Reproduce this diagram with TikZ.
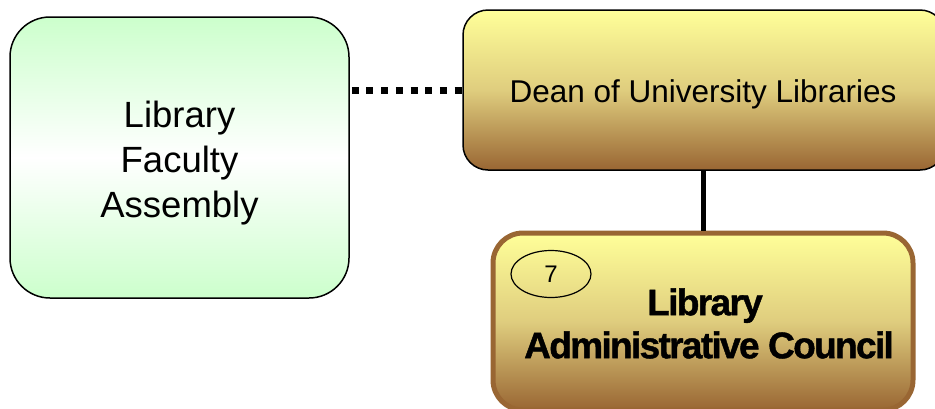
\documentclass[tikz,border=0pt]{standalone}
\usepackage{fontspec}
\setmainfont{Liberation Sans}
\newfontfamily\tightbold[LetterSpace=-4.5,FakeBold=1.2]{Liberation Sans Bold}
\usetikzlibrary{shapes.geometric}

\definecolor{paleGreen}{HTML}{CCFFCC}
\definecolor{paleYellow}{HTML}{FFFF99}
\definecolor{midGold}{HTML}{DFCD7E}
\definecolor{rustBrown}{HTML}{996633}

\tikzset{
  orgbox/.style={draw=black, line width=1.5pt, inner sep=0pt},
  boxtext/.style={align=center, inner sep=0pt},
  greenfill/.style={top color=paleGreen, bottom color=paleGreen, middle color=white},
  goldfill/.style={top color=paleYellow, bottom color=rustBrown, middle color=midGold},
  tie/.style={line width=7pt, dash pattern=on 7pt off 7.7pt},
  report/.style={line width=5pt},
}

\begin{document}
\begin{tikzpicture}[x=1pt, y=-1pt]
  \useasboundingbox (0,0) rectangle (935,408);

  % Library Faculty Assembly
  \node[orgbox, greenfill, rounded corners=40pt,
        minimum width=339pt, minimum height=281pt]
    (fac) at (179.5,157.5) {};
  \node[boxtext, font=\fontsize{36.5}{45}\selectfont]
    (facText) at ([yshift=-6pt]fac.center) {Library\\Faculty\\Assembly};

  % Dean of University Libraries
  \node[orgbox, goldfill, rounded corners=25pt,
        minimum width=482pt, minimum height=160pt]
    (dean) at (704,90) {};
  \node[boxtext, font=\fontsize{31.5}{38}\selectfont]
    (deanText) at ([xshift=-1pt,yshift=-4pt]dean.center) {Dean of University Libraries};

  % Library Administrative Council
  \node[orgbox, goldfill, draw=rustBrown, line width=5pt, rounded corners=30pt,
        minimum width=420pt, minimum height=177pt]
    (lac) at (703,321.5) {};
  \node[boxtext, font=\tightbold\fontsize{37}{43}\selectfont]
    (lacText) at ([yshift=-2pt]lac.center)
    {\hspace*{4pt}Library\\\hspace*{12pt}Administrative Council};

  % committee number tag
  \node[draw=black, line width=1.2pt, ellipse, inner sep=0pt,
        minimum width=80pt, minimum height=47pt,
        font=\fontsize{24}{28}\selectfont]
    (num) at (551,274) {7};

  % connectors
  \draw[tie] (dean.west -| fac.east) ++(2,0) -- (dean.west);
  \draw[report] (lac.north) -- (lac.north |- dean.south);
\end{tikzpicture}
\end{document}
